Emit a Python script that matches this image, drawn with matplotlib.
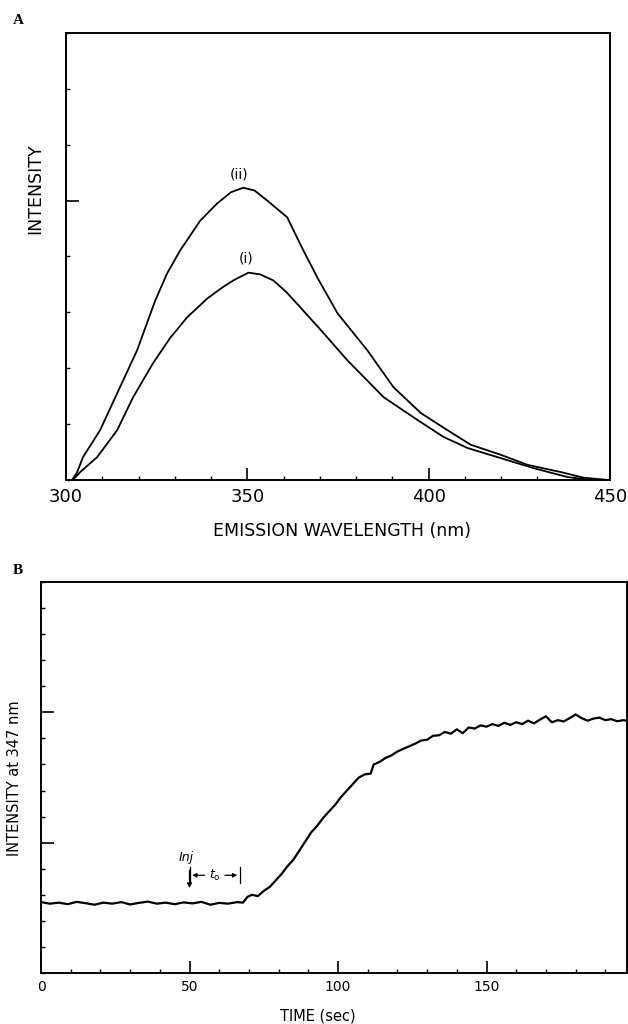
"""
    Two-panel figure: emission spectra (A) and intensity time course at 347 nm (B)
"""

import matplotlib
matplotlib.use("Agg")
import matplotlib.pyplot as plt
import numpy as np

# panel A: emission spectra (intensity in tick units)
wl_ii = [300.0, 301.7, 303.0, 304.7, 309.4, 314.1, 319.6, 324.6, 327.9, 331.5, 337.0,
         341.7, 345.5, 348.9, 352.0, 355.5, 361.0, 365.2, 369.5, 374.9, 383.1, 390.3,
         397.8, 405.2, 411.6, 419.9, 427.3, 436.5, 442.8, 449.4]
int_ii = [0.0, 0.0, 0.13, 0.41, 0.89, 1.55, 2.32, 3.21, 3.70, 4.11, 4.64,
          4.95, 5.15, 5.23, 5.18, 5.00, 4.70, 4.14, 3.60, 2.98, 2.32, 1.66,
          1.20, 0.89, 0.63, 0.45, 0.27, 0.14, 0.04, 0.0]

wl_i = [300.0, 301.9, 303.9, 308.6, 314.1, 318.5, 324.0, 328.7, 333.4, 339.0, 343.0,
        346.1, 350.3, 353.5, 357.2, 360.8, 364.6, 371.0, 377.6, 387.6, 397.0, 404.1,
        410.8, 419.9, 429.0, 438.4, 445.6, 450.0]
int_i = [0.0, 0.0, 0.14, 0.41, 0.89, 1.48, 2.09, 2.54, 2.91, 3.25, 3.44,
         3.57, 3.71, 3.68, 3.57, 3.36, 3.09, 2.63, 2.14, 1.48, 1.07, 0.77,
         0.57, 0.39, 0.21, 0.05, 0.0, 0.0]

# panel B: time course
time_s = [0, 3, 6, 9, 12, 15, 18, 21, 24, 27, 30, 33, 36, 39, 42, 45, 48, 51, 54,
          57, 60, 63, 66, 68, 69.5, 71, 73, 75, 77, 79, 81, 83, 85, 87, 89, 91, 93,
          95, 97, 99, 101, 103, 105, 107, 109, 111, 112, 114, 116, 118, 120, 122,
          124, 126, 128, 130, 132, 134, 136, 138, 140, 142, 144, 146, 148, 150, 152,
          154, 156, 158, 160, 162, 164, 166, 168, 170, 172, 174, 176, 178, 180, 182,
          184, 186, 188, 190, 192, 194, 196, 197.3]
int_347 = [2.72, 2.66, 2.70, 2.64, 2.73, 2.68, 2.62, 2.70, 2.66, 2.72, 2.63, 2.69,
           2.74, 2.66, 2.70, 2.64, 2.71, 2.67, 2.73, 2.62, 2.69, 2.66, 2.72, 2.70,
           2.92, 3.00, 2.95, 3.15, 3.30, 3.55, 3.80, 4.10, 4.35, 4.70, 5.05, 5.40,
           5.65, 5.95, 6.20, 6.45, 6.75, 7.00, 7.25, 7.50, 7.62, 7.65, 8.00, 8.10,
           8.25, 8.35, 8.50, 8.60, 8.70, 8.80, 8.92, 8.95, 9.10, 9.12, 9.25, 9.18,
           9.35, 9.20, 9.42, 9.38, 9.50, 9.45, 9.55, 9.48, 9.60, 9.52, 9.62, 9.55,
           9.68, 9.58, 9.72, 9.85, 9.62, 9.70, 9.65, 9.78, 9.92, 9.78, 9.68, 9.76,
           9.80, 9.70, 9.74, 9.66, 9.70, 9.68]

plt.rcParams['font.family'] = ['DejaVu Sans']

fig = plt.figure(figsize=(6.28, 10.24), dpi=100)

# ---------------- panel A ----------------
axA = fig.add_axes([0.1051, 0.5313, 0.8662, 0.4365])
axA.plot(wl_ii, int_ii, color='black', lw=1.3)
axA.plot(wl_i, int_i, color='black', lw=1.3)
axA.set_xlim(300, 450)
axA.set_ylim(0, 8)
axA.set_xticks([300, 350, 400, 450])
axA.set_xticks(np.arange(300, 451, 10), minor=True)
axA.set_yticks([5])
axA.set_yticklabels([])
axA.set_yticks(np.arange(0, 8.1, 1), minor=True)
axA.tick_params(which='major', direction='in', length=9, width=1.2, labelsize=13, pad=6)
axA.tick_params(which='minor', direction='in', length=3, width=1.0)
axA.set_xlabel("EMISSION WAVELENGTH (nm)", fontsize=12.5)
axA.xaxis.set_label_coords(0.508, -0.095)
axA.set_ylabel("INTENSITY", fontsize=12.5)
axA.yaxis.set_label_coords(-0.040, 0.651)
axA.text(347.8, 5.46, "(ii)", fontsize=10, ha='center', va='center')
axA.text(349.7, 3.96, "(i)", fontsize=10, ha='center', va='center')
for sp in axA.spines.values():
    sp.set_linewidth(1.4)
fig.text(18 / 628, 1 - 21 / 1024, "A", fontsize=11, fontweight='bold',
         family='Liberation Serif', ha='center', va='center')

# ---------------- panel B ----------------
axB = fig.add_axes([0.0653, 0.0498, 0.9331, 0.3818])
axB.plot(time_s, int_347, color='black', lw=1.6)
axB.set_xlim(0, 197.3)
axB.set_ylim(0, 15)
axB.set_xticks([0, 50, 100, 150])
axB.set_xticks(np.arange(0, 197, 10), minor=True)
axB.set_yticks([5, 10])
axB.set_yticklabels([])
axB.set_yticks(np.arange(0, 15.1, 1), minor=True)
axB.tick_params(which='major', direction='in', length=9, width=1.2, labelsize=10, pad=5)
axB.tick_params(which='minor', direction='in', length=3, width=1.0)
axB.set_xlabel("TIME (sec)", fontsize=10.5)
axB.xaxis.set_label_coords(0.473, -0.090)
axB.set_ylabel("INTENSITY at 347 nm", fontsize=10.5)
axB.yaxis.set_label_coords(-0.033, 0.499)
for sp in axB.spines.values():
    sp.set_linewidth(1.4)

# injection marker and lag time bracket
axB.text(48.8, 4.45, "Inj", fontsize=9, style='italic', ha='center', va='center')
axB.annotate("", xy=(50, 3.15), xytext=(50, 4.05),
             arrowprops=dict(arrowstyle='-|>', color='black', lw=0.9, mutation_scale=7))
axB.plot([50, 50], [3.45, 4.05], color='black', lw=0.9)
axB.plot([67, 67], [3.45, 4.05], color='black', lw=0.9)
axB.text(58.5, 3.73, r"$t_{\rm o}$", fontsize=9, ha='center', va='center')
axB.annotate("", xy=(50, 3.75), xytext=(56, 3.75),
             arrowprops=dict(arrowstyle='-|>', color='black', lw=0.9, mutation_scale=6))
axB.annotate("", xy=(67, 3.75), xytext=(61, 3.75),
             arrowprops=dict(arrowstyle='-|>', color='black', lw=0.9, mutation_scale=6))
fig.text(18 / 628, 1 - 570 / 1024, "B", fontsize=11, fontweight='bold',
         family='Liberation Serif', ha='center', va='center')

fig.savefig("out.png", dpi=100)
